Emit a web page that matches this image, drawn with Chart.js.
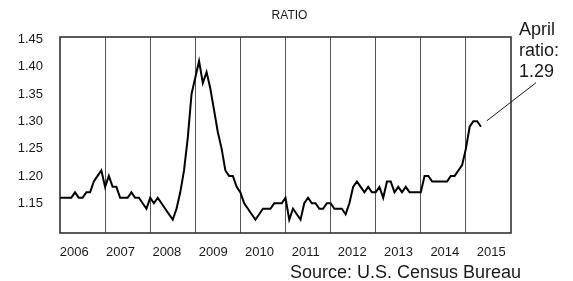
<!DOCTYPE html>
<html>
<head>
<meta charset="utf-8">
<script src="https://cdn.jsdelivr.net/npm/chart.js@4.4.0/dist/chart.umd.min.js"></script>
<style>
  html, body { margin: 0; padding: 0; background: #fff; }
  canvas { display: block; }
</style>
</head>
<body>
<canvas id="ratioChart" width="573" height="281"></canvas>
<script>
// monthly ratio, Jan 2006 onwards
const ratio = [
  1.16, 1.16, 1.16, 1.16, 1.17, 1.16, 1.16, 1.17, 1.17, 1.19, 1.20, 1.21,
  1.18, 1.20, 1.18, 1.18, 1.16, 1.16, 1.16, 1.17, 1.16, 1.16, 1.15, 1.14,
  1.16, 1.15, 1.16, 1.15, 1.14, 1.13, 1.12, 1.14, 1.17, 1.21, 1.27, 1.35,
  1.38, 1.41, 1.37, 1.39, 1.36, 1.32, 1.28, 1.25, 1.21, 1.20, 1.20, 1.18,
  1.17, 1.15, 1.14, 1.13, 1.12, 1.13, 1.14, 1.14, 1.14, 1.15, 1.15, 1.15,
  1.16, 1.12, 1.14, 1.13, 1.12, 1.15, 1.16, 1.15, 1.15, 1.14, 1.14, 1.15,
  1.15, 1.14, 1.14, 1.14, 1.13, 1.15, 1.18, 1.19, 1.18, 1.17, 1.18, 1.17,
  1.17, 1.18, 1.16, 1.19, 1.19, 1.17, 1.18, 1.17, 1.18, 1.17, 1.17, 1.17,
  1.17, 1.20, 1.20, 1.19, 1.19, 1.19, 1.19, 1.19, 1.20, 1.20, 1.21, 1.22,
  1.25, 1.29, 1.30, 1.30, 1.29,
];
const yearLabels = [2006, 2007, 2008, 2009, 2010, 2011, 2012, 2013, 2014, 2015];
const yTicks = [1.15, 1.20, 1.25, 1.30, 1.35, 1.40, 1.45];
const noteLines = ['April', 'ratio:', '1.29'];
const titleText = 'RATIO';
const sourceText = 'Source: U.S. Census Bureau';

const FONT = '"Liberation Sans", Arial, sans-serif';
const INK = '#1a1a1a';

// frame, title, source and the April callout
const extras = {
  id: 'extras',
  beforeDatasetsDraw(chart) {
    const { ctx, chartArea: a } = chart;
    ctx.save();
    ctx.strokeStyle = '#333';
    ctx.lineWidth = 1.6;
    ctx.strokeRect(a.left, a.top, a.right - a.left, a.bottom - a.top);
    ctx.restore();
  },
  afterDraw(chart) {
    const { ctx, chartArea: a } = chart;
    ctx.save();
    ctx.fillStyle = INK;
    ctx.textBaseline = 'middle';
    ctx.textAlign = 'center';
    ctx.font = '12px ' + FONT;
    ctx.fillText(titleText, chart.width / 2 + 3, 16);

    ctx.textBaseline = 'alphabetic';
    ctx.textAlign = 'left';
    ctx.font = '18px ' + FONT;
    noteLines.forEach((t, i) => ctx.fillText(t, a.right + 8, 35 + i * 21));

    ctx.textAlign = 'right';
    ctx.fillText(sourceText, a.right + 10, 278);

    const meta = chart.getDatasetMeta(0);
    const last = meta.data[meta.data.length - 1];
    ctx.strokeStyle = INK;
    ctx.lineWidth = 1;
    ctx.beginPath();
    ctx.moveTo(last.x + 6, last.y - 6);
    ctx.lineTo(last.x + 55, last.y - 44);
    ctx.stroke();
    ctx.restore();
  },
};

const ctx = document.getElementById('ratioChart').getContext('2d');
new Chart(ctx, {
  type: 'line',
  data: {
    datasets: [
      {
        data: ratio.map((v, i) => ({ x: i, y: v })),
        borderColor: '#000',
        borderWidth: 2,
        pointRadius: 0,
        tension: 0,
        fill: false,
        xAxisID: 'x',
      },
    ],
  },
  options: {
    responsive: false,
    animation: false,
    devicePixelRatio: 1,
    layout: { padding: { left: 0, top: 37, right: 62, bottom: 0 } },
    plugins: { legend: { display: false }, tooltip: { enabled: false } },
    scales: {
      x: {
        type: 'linear',
        position: 'bottom',
        min: 0,
        max: 120,
        afterBuildTicks: (s) => {
          s.ticks = yearLabels.slice(1).map((y, i) => ({ value: (i + 1) * 12 }));
        },
        afterFit: (s) => { s.height = 0; },
        ticks: { display: false },
        grid: { color: '#555', lineWidth: 1, drawTicks: false },
        border: { display: false },
      },
      years: {
        type: 'linear',
        position: 'bottom',
        min: 2005.6935,
        max: 2015.428,
        afterBuildTicks: (s) => {
          s.ticks = yearLabels.map((y) => ({ value: y }));
        },
        afterFit: (s) => { s.height = 48; },
        ticks: {
          padding: 12,
          color: INK,
          font: { family: FONT, size: 13 },
          callback: (v) => String(v),
          maxRotation: 0,
          autoSkip: false,
        },
        grid: { display: false, drawTicks: false },
        border: { display: false },
      },
      y: {
        type: 'linear',
        min: 1.0956,
        max: 1.4542,
        afterBuildTicks: (s) => {
          s.ticks = yTicks.map((v) => ({ value: v }));
        },
        afterFit: (s) => { s.width = 60; },
        ticks: {
          padding: 17,
          color: INK,
          font: { family: FONT, size: 13 },
          callback: (v) => v.toFixed(2),
        },
        grid: { display: false, drawTicks: false },
        border: { display: false },
      },
    },
  },
  plugins: [extras],
});
</script>
</body>
</html>
